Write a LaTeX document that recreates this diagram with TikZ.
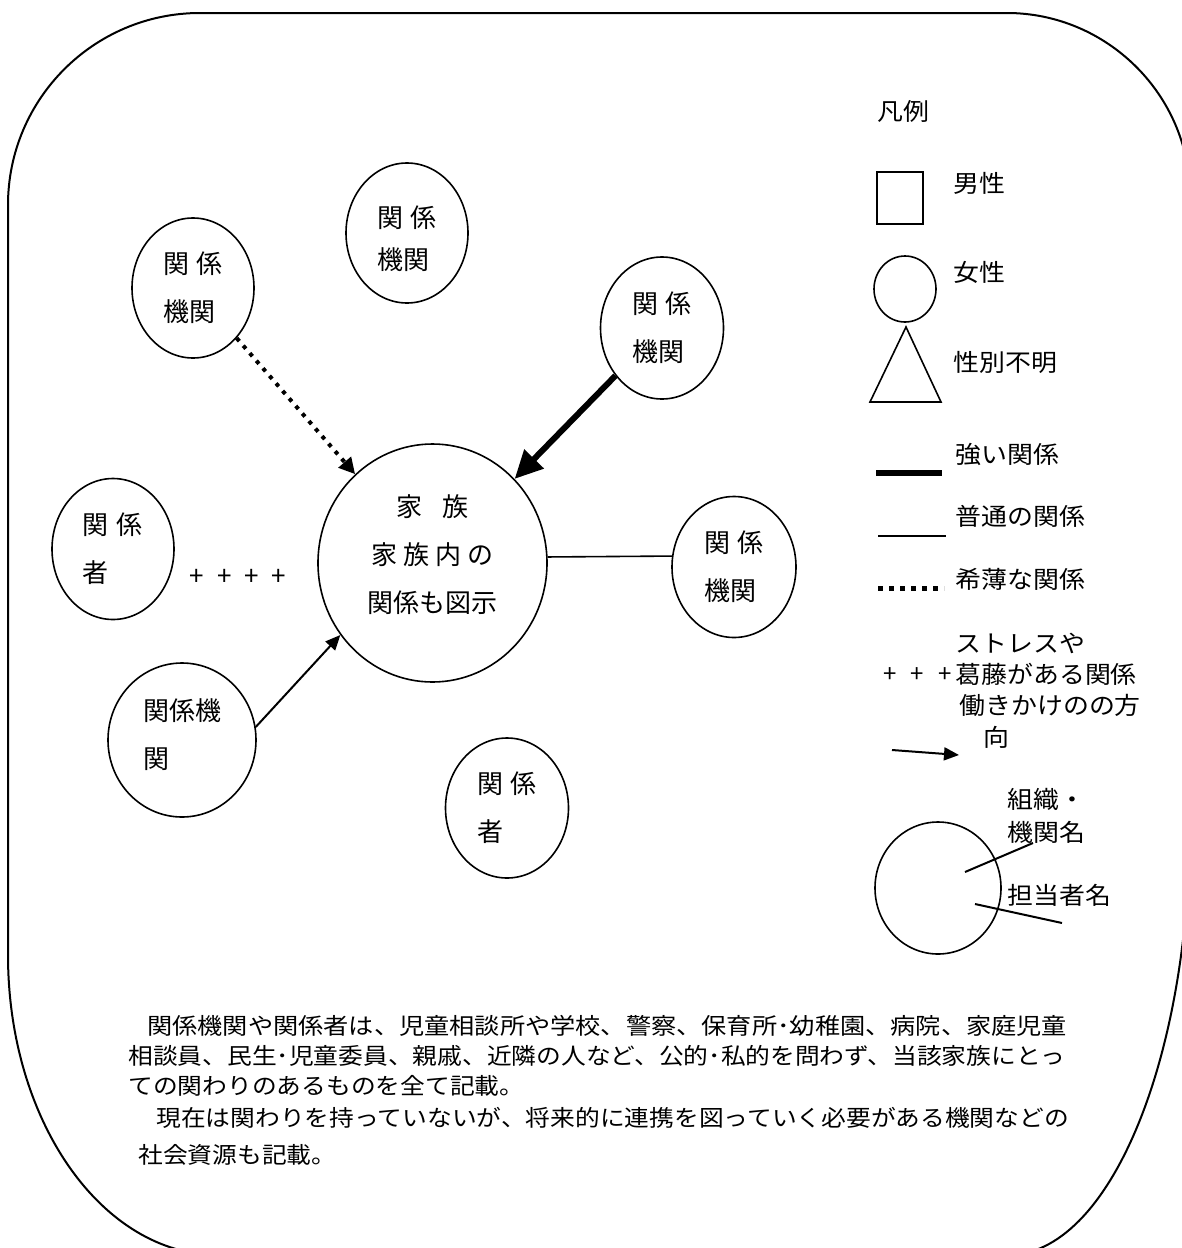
\documentclass[tikz,border=0pt]{standalone}
\usepackage{fontspec}
\setmainfont{Noto Sans CJK JP}
\newfontfamily\jpc{Noto Sans CJK JP}
\newfontfamily\jpl[FakeStretch=1.08]{Noto Sans CJK JP}
\newfontfamily\jpb[FakeStretch=1.09]{Noto Sans CJK JP}
\newfontfamily\jpbw[FakeStretch=1.11]{Noto Sans CJK JP}
\newcommand\wsp[1]{\spaceskip=#1\relax}
\usetikzlibrary{shapes.geometric,arrows.meta}
\tikzset{
  rel/.style={ellipse, draw, line width=0.8pt, inner sep=0pt, align=left,
    font=\jpc\fontsize{13pt}{24pt}\selectfont, execute at begin node={\wsp{4pt}}},
  lg/.style={anchor=west, inner sep=0pt, font=\jpl\fontsize{12pt}{15pt}\selectfont},
  bt/.style={anchor=west, inner sep=0pt, font=\jpb\fontsize{11.35pt}{14pt}\selectfont},
  plustxt/.style={inner sep=0pt, font=\jpc\fontsize{13pt}{16pt}\selectfont},
  dotline/.style={line width=2pt, dash pattern=on 2pt off 3pt},
  dotarr/.style={dotline, -{Triangle[length=8pt,width=8pt]}},
  thickarr/.style={line width=3pt, -{Triangle[length=14pt,width=13pt]}},
  thinarr/.style={line width=1pt, -{Triangle[length=7.5pt,width=6.5pt]}},
  plainline/.style={line width=0.8pt},
  border/.style={line width=1pt}
}
\begin{document}
\begin{tikzpicture}[x=0.5pt,y=-0.5pt]
\useasboundingbox (0,0) rectangle (1182,1248);
\begin{scope}
\clip (0,0) rectangle (1182,1248);
\draw[border] (8,205) .. controls (8,99) and (94,13) .. (200,13) -- (1007,13)
  .. controls (1107,13) and (1190,95) .. (1190,196) -- (1190,820)
  .. controls (1190,1060) and (1109,1255) .. (1008,1255) -- (218,1255)
  .. controls (102,1255) and (8,1121) .. (8,955) -- cycle;
\end{scope}

% relation nodes
\node[rel, minimum width=61pt, minimum height=70pt] (A) at (193,288) {関 係\\機関};
\node[rel, minimum width=61pt, minimum height=70pt, font=\jpc\fontsize{13pt}{21pt}\selectfont] (B) at (407,233) {\rule{0pt}{16.4pt}関 係\\機関};
\node[rel, minimum width=61.5pt, minimum height=71pt] (C) at (662,328) {関 係\\機関};
\node[rel, minimum width=62pt, minimum height=70.5pt] (D) at (734,567) {関 係\\機関};
\node[rel, minimum width=61pt, minimum height=70.5pt] (E) at (113,549) {関 係\\者};
\node[rel, minimum width=74pt, minimum height=77pt, text depth=6pt] (F) at (182,740) {関係機\\関};
\node[rel, minimum width=61.5pt, minimum height=70pt] (G) at (507,808) {関 係\\者};
\node[rel, align=center, minimum width=114.5pt, minimum height=119pt, text depth=9.5pt] (fam) at (432.5,563)
  {家\hspace{6pt} 族\\家\kern3pt族\kern3pt内\kern3pt の\\関係も図示};
\node[plustxt] (plus) at (238,577) {\wsp{6.5pt}+ + + +};

% connectors
\draw[dotarr] (A) -- (fam);
\draw[thickarr] (C) -- (fam);
\draw[plainline] (fam.3) -- (D.170);
\draw[thinarr] (F.10) -- (fam.218);

% legend
\node[lg] (lgtitle) at (877,111) {凡例};
\node[draw, line width=0.8pt, minimum width=23pt, minimum height=26pt, inner sep=0pt] (male) at (900,198) {};
\node[lg] (maletxt) at (953,183) {男性};
\node[ellipse, draw, line width=0.8pt, minimum width=31pt, minimum height=33pt, inner sep=0pt] (female) at (905,289) {};
\node[lg] (femaletxt) at (953,272) {女性};
\draw[line width=0.8pt] (906,327) -- (870,402) -- (941,402) -- cycle;
\node[lg] (unknowntxt) at (953,362) {性別不明};

\coordinate (s1) at (876,473); \coordinate (s2) at (942,473);
\draw[line width=3pt] (s1) -- (s2);
\node[lg] (strongtxt) at (955,454) {強い関係};
\coordinate (n1) at (878,536); \coordinate (n2) at (946,536);
\draw[line width=1pt] (n1) -- (n2);
\node[lg] (normaltxt) at (955,516) {普通の関係};
\coordinate (w1) at (878,588); \coordinate (w2) at (944,588);
\draw[line width=2.5pt, dash pattern=on 2.5pt off 3pt] (w1) -- (w2);
\node[lg] (weaktxt) at (955,579) {希薄な関係};
\node[lg] (stresstxt1) at (955,643) {ストレスや};
\node[plustxt, anchor=west, font=\jpc\fontsize{12pt}{15pt}\selectfont] (lgplus) at (883,675) {\wsp{7pt}+ + +};
\node[lg] (stresstxt2) at (955,674) {葛藤がある関係};
\node[lg] (acttxt1) at (959,705) {働きかけのの方};
\node[lg] (acttxt2) at (983,737) {向};
\coordinate (a1) at (892,750); \coordinate (a2) at (959,755);
\draw[thinarr] (a1) -- (a2);

\node[ellipse, draw, line width=0.8pt, minimum width=63pt, minimum height=66pt, inner sep=0pt] (org) at (938,888) {};
\node[lg] (orgtxt1) at (1007,799) {組織・};
\node[lg] (orgtxt2) at (1007,832) {機関名};
\node[lg] (persontxt) at (1007,895) {担当者名};
\coordinate (o1) at (965,872); \coordinate (o2) at (1033,843);
\draw[line width=1pt] (o1) -- (o2);
\coordinate (p1) at (975,904); \coordinate (p2) at (1062,923);
\draw[line width=1pt] (p1) -- (p2);

% bottom text
\node[bt, font=\jpbw\fontsize{11.35pt}{14pt}\selectfont] (b1) at (147,1026) {関係機関や関係者は、児童相談所や学校、警察、保育所･幼稚園、病院、家庭児童};
\node[bt] (b2) at (128,1056) {相談員、民生･児童委員、親戚、近隣の人など、公的･私的を問わず、当該家族にとっ};
\node[bt] (b3) at (128,1086) {ての関わりのあるものを全て記載。};
\node[bt] (b4) at (156,1118) {現在は関わりを持っていないが、将来的に連携を図っていく必要がある機関などの};
\node[bt] (b5) at (138,1155) {社会資源も記載。};
\end{tikzpicture}
\end{document}
